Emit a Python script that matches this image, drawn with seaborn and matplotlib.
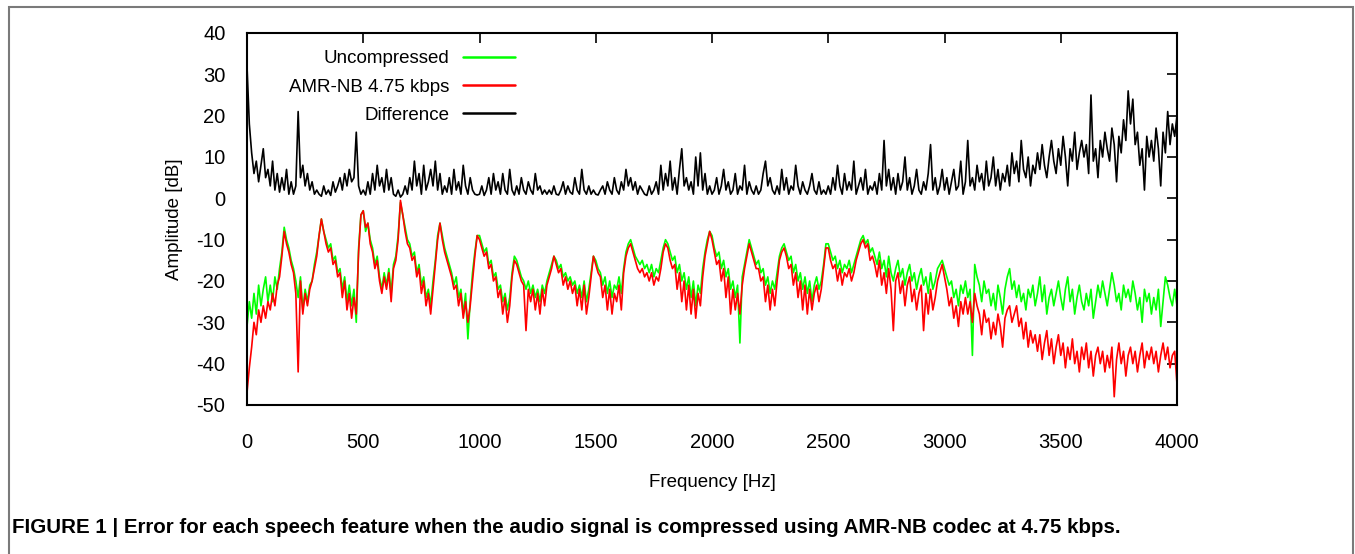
import numpy as np
import pandas as pd
import matplotlib
matplotlib.use("Agg")
import matplotlib.pyplot as plt
from matplotlib.patches import Rectangle
import seaborn as sns

# ---------------- data (10 Hz steps) ----------------
freq_hz = list(range(0, 4001, 10))

uncompressed_db = [
    -31, -25, -29, -23, -28, -21, -26, -22, -19, -25,
    -21, -25, -19, -22, -17, -13, -7, -10, -12, -15,
    -17, -20, -24, -19, -27, -22, -25, -21, -20, -16,
    -13, -9, -5, -8, -10, -12, -11, -15, -14, -18,
    -17, -22, -19, -25, -21, -26, -22, -30, -12, -4,
    -3, -8, -6, -10, -12, -16, -14, -19, -22, -18,
    -21, -17, -23, -16, -14, -9, -1, -4, -7, -10,
    -11, -14, -13, -18, -16, -21, -19, -24, -22, -26,
    -20, -15, -9, -6, -9, -12, -14, -16, -18, -21,
    -19, -24, -22, -28, -23, -34, -25, -18, -13, -9,
    -9, -11, -13, -12, -16, -15, -19, -18, -22, -21,
    -25, -23, -27, -24, -18, -14, -15, -17, -19, -20,
    -22, -20, -23, -21, -24, -22, -25, -21, -23, -20,
    -18, -16, -14, -15, -17, -16, -19, -18, -20, -19,
    -21, -20, -23, -21, -24, -20, -25, -22, -18, -14,
    -15, -17, -18, -21, -19, -23, -20, -24, -21, -22,
    -19, -23, -17, -13, -11, -10, -12, -14, -15, -16,
    -15, -17, -16, -18, -16, -19, -17, -18, -15, -12,
    -10, -11, -13, -15, -14, -18, -16, -20, -18, -22,
    -19, -24, -20, -26, -21, -23, -17, -13, -10, -8,
    -9, -12, -14, -13, -17, -15, -19, -17, -22, -20,
    -24, -21, -35, -19, -16, -13, -10, -12, -14, -16,
    -15, -18, -17, -21, -19, -23, -20, -22, -18, -14,
    -12, -11, -13, -15, -14, -18, -16, -20, -18, -22,
    -19, -23, -20, -25, -21, -19, -22, -20, -16, -11,
    -11, -13, -15, -14, -17, -15, -18, -16, -17, -15,
    -18, -16, -14, -12, -10, -9, -11, -10, -13, -12,
    -14, -16, -13, -17, -15, -19, -14, -18, -20, -17,
    -15, -19, -17, -21, -18, -16, -20, -18, -22, -19,
    -17, -21, -19, -23, -18, -22, -20, -17, -16, -15,
    -17, -19, -21, -20, -24, -22, -26, -21, -23, -20,
    -24, -22, -38, -16, -19, -21, -25, -20, -23, -22,
    -26, -23, -27, -21, -24, -28, -22, -19, -17, -22,
    -20, -24, -21, -25, -23, -27, -22, -24, -21, -26,
    -23, -19, -25, -21, -28, -24, -22, -26, -23, -20,
    -24, -27, -22, -19, -25, -22, -28, -24, -21, -25,
    -27, -23, -26, -22, -29, -25, -21, -24, -20, -23,
    -26, -22, -18, -21, -25, -23, -27, -21, -24, -22,
    -25, -20, -23, -27, -24, -30, -22, -25, -23, -28,
    -24, -27, -22, -31, -25, -19, -21, -24, -26, -22,
    -26,
]

amr_db = [
    -47, -41, -36, -30, -33, -27, -30, -26, -29, -25,
    -27, -23, -26, -21, -19, -14, -8, -11, -13, -16,
    -18, -23, -42, -20, -28, -23, -26, -22, -20, -17,
    -14, -9, -5, -8, -11, -13, -12, -16, -15, -19,
    -18, -24, -20, -27, -23, -29, -24, -28, -13, -4,
    -3, -7, -6, -11, -13, -17, -15, -20, -23, -19,
    -22, -18, -25, -17, -15, -10, -0.5, -4, -8, -11,
    -12, -15, -14, -19, -17, -23, -20, -26, -23, -28,
    -22, -16, -10, -6, -10, -13, -15, -17, -19, -22,
    -21, -26, -23, -29, -25, -30, -26, -20, -14, -9,
    -10, -12, -14, -13, -17, -16, -20, -19, -24, -22,
    -28, -24, -30, -26, -19, -15, -16, -18, -20, -21,
    -32, -22, -25, -22, -27, -23, -28, -22, -26, -21,
    -19, -17, -14, -16, -18, -17, -21, -19, -22, -20,
    -23, -21, -26, -22, -27, -21, -28, -24, -19, -14,
    -16, -18, -19, -24, -21, -27, -22, -28, -23, -25,
    -21, -27, -18, -14, -12, -11, -13, -15, -17, -18,
    -17, -19, -18, -20, -18, -21, -19, -20, -17, -13,
    -11, -12, -15, -17, -16, -22, -18, -25, -20, -27,
    -21, -28, -22, -29, -23, -26, -19, -14, -11, -8,
    -10, -13, -16, -15, -20, -17, -24, -19, -28, -22,
    -27, -23, -28, -21, -17, -14, -11, -13, -15, -17,
    -17, -20, -19, -25, -21, -27, -22, -26, -20, -15,
    -13, -12, -14, -17, -16, -21, -18, -24, -20, -27,
    -21, -28, -22, -27, -23, -21, -25, -22, -17, -12,
    -12, -15, -17, -16, -20, -17, -21, -18, -19, -17,
    -20, -18, -15, -13, -11, -10, -12, -11, -15, -14,
    -16, -19, -15, -21, -18, -23, -17, -22, -32, -20,
    -18, -23, -20, -26, -21, -19, -25, -22, -27, -23,
    -21, -32, -23, -28, -22, -27, -24, -20, -18, -16,
    -19, -22, -26, -24, -29, -26, -31, -25, -28, -24,
    -28, -25, -30, -23, -26, -28, -33, -27, -30, -29,
    -34, -30, -33, -28, -31, -36, -29, -27, -26, -30,
    -28, -26, -31, -29, -34, -30, -36, -32, -35, -33,
    -37, -33, -39, -35, -32, -38, -34, -40, -36, -33,
    -38, -35, -41, -36, -39, -34, -40, -37, -42, -36,
    -39, -35, -41, -37, -43, -38, -36, -40, -37, -42,
    -38, -41, -36, -48, -39, -35, -40, -37, -43, -38,
    -36, -40, -37, -42, -38, -35, -41, -37, -39, -36,
    -40, -37, -42, -38, -35, -39, -36, -41, -38, -37,
    -45,
]

difference_db = [
    32, 18, 11, 6, 9, 4, 8, 12, 5, 7,
    3, 9, 2, 6, 1.5, 5, 2, 7, 1, 4,
    1, 3, 21, 5, 8, 3, 6, 2, 4, 1,
    2, 1, 0.5, 3, 1, 2, 0.7, 4, 1.5, 3,
    5, 2, 6, 3, 7, 4, 5, 16, 3, 1,
    2, 0.8, 4, 1, 6, 2, 8, 3, 5, 1.5,
    7, 2, 5, 1, 0.5, 2, 0.3, 1, 3, 1,
    5, 2, 9, 3, 6, 1, 8, 2, 4, 7,
    3, 9, 2, 6, 1, 3, 1.5, 5, 1, 7,
    2, 4, 1, 8, 3, 1, 5, 2, 1, 0.8,
    1, 3, 0.7, 2, 5, 1, 6, 2, 4, 1,
    6, 2, 1, 7, 2, 0.8, 3, 1, 5, 2,
    1, 4, 2, 1, 6, 2, 3, 1, 2, 1,
    2, 1, 3, 1, 0.8, 2, 4, 1, 3, 1.5,
    1, 5, 2, 1, 7, 2, 1, 3, 1, 2,
    1, 0.8, 2, 3, 1, 4, 2, 1, 5, 2,
    1, 4, 2, 7, 3, 5, 2, 4, 1, 3,
    2, 1, 0.7, 3, 1, 2, 4, 1, 8, 2,
    6, 3, 9, 2, 5, 1, 7, 12, 3, 5,
    2, 4, 1, 10, 3, 11, 2, 6, 1, 3,
    1, 2, 5, 1, 3, 7, 2, 4, 1, 2,
    6, 1, 3, 2, 8, 1, 4, 2, 1, 3,
    1, 2, 6, 9, 3, 5, 2, 1, 3, 1,
    7, 2, 5, 1, 3, 2, 8, 3, 1, 4,
    2, 1, 3, 6, 2, 1, 4, 1, 2, 1,
    3, 1, 5, 2, 8, 3, 1, 6, 2, 4,
    2, 9, 1, 3, 5, 2, 7, 1, 3, 2,
    4, 1, 6, 2, 14, 3, 7, 2, 5, 1,
    6, 2, 4, 10, 2, 5, 1, 3, 7, 2,
    1, 4, 2, 6, 13, 2, 5, 1, 3, 7,
    2, 5, 1, 4, 7, 2, 3, 9, 1, 4,
    14, 3, 5, 2, 8, 4, 6, 2, 9, 3,
    5, 10, 3, 7, 2, 6, 4, 8, 3, 11,
    6, 9, 4, 14, 7, 5, 10, 3, 8, 6,
    11, 7, 13, 8, 5, 10, 14, 9, 6, 12,
    8, 15, 10, 3, 12, 9, 16, 7, 11, 14,
    10, 13, 6, 25, 9, 12, 5, 14, 10, 16,
    12, 9, 17, 13, 4, 15, 11, 19, 14, 26,
    18, 24, 13, 16, 8, 12, 2, 15, 10, 14,
    9, 17, 12, 3, 16, 11, 21, 13, 18, 15,
    20,
]

series_labels = ["Uncompressed", "AMR-NB 4.75 kbps", "Difference"]
series_colors = ["#00ff00", "#ff0000", "#000000"]
x_ticks = [0, 500, 1000, 1500, 2000, 2500, 3000, 3500, 4000]
y_ticks = [-50, -40, -30, -20, -10, 0, 10, 20, 30, 40]
caption = ("FIGURE 1 | Error for each speech feature when the audio signal "
           "is compressed using AMR-NB codec at 4.75 kbps.")

# ---------------- style ----------------
sns.set_style("white")
plt.rcParams["font.family"] = ["Liberation Sans", "DejaVu Sans"]
plt.rcParams["axes.unicode_minus"] = False
plt.rcParams["text.color"] = "black"
plt.rcParams["axes.labelcolor"] = "black"
plt.rcParams["xtick.color"] = "black"
plt.rcParams["ytick.color"] = "black"

W, H = 1355, 554
fig = plt.figure(figsize=(W / 100, H / 100), dpi=100)
ax = fig.add_axes([247 / W, 1 - 405 / H, (1177 - 247) / W, (405 - 33) / H])

df = pd.DataFrame({
    "freq": freq_hz,
    series_labels[0]: uncompressed_db,
    series_labels[1]: amr_db,
    series_labels[2]: difference_db,
})

for lab, col in zip(series_labels, series_colors):
    sns.lineplot(data=df, x="freq", y=lab, color=col, lw=1.2, ax=ax,
                 label=lab, sort=False, estimator=None)

ax.set_xlim(0, 4000)
ax.set_ylim(-50, 40)
ax.set_xticks(x_ticks)
ax.set_yticks(y_ticks)
ax.set_xticklabels([str(v) for v in x_ticks])
ax.set_yticklabels([str(v) for v in y_ticks])
ax.tick_params(direction="in", length=7, width=1.2, top=True, right=True,
               labelsize=14.5, colors="black")
ax.tick_params(axis="x", pad=20)
ax.tick_params(axis="y", pad=15.5)
for s in ax.spines.values():
    s.set_color("black")
    s.set_linewidth(1.5)

ax.set_xlabel("Frequency [Hz]", fontsize=13.5, labelpad=16, color="black")
ax.set_ylabel("Amplitude [dB]", fontsize=13.5, labelpad=10, color="black")

leg = ax.legend(loc="upper right", bbox_to_anchor=(515 / W, 1 - 50 / H),
                bbox_transform=fig.transFigure, frameon=False, markerfirst=False,
                fontsize=13.5, handlelength=2.8, handletextpad=0.7,
                labelspacing=0.6, borderpad=0, borderaxespad=0)
for line in leg.get_lines():
    line.set_linewidth(1.8)
for t in leg.get_texts():
    t.set_color("black")

fig.text(12 / W, 1 - 533 / H, caption,
         fontsize=14.8, fontweight="bold", ha="left", va="baseline", color="black")

fig.patches.append(Rectangle((9 / W, -0.05), (1353 - 9) / W, 1.05 - 7 / H,
                             transform=fig.transFigure, fill=False,
                             edgecolor="#7a7a7a", linewidth=1.5))

fig.savefig("out.png", dpi=100)
